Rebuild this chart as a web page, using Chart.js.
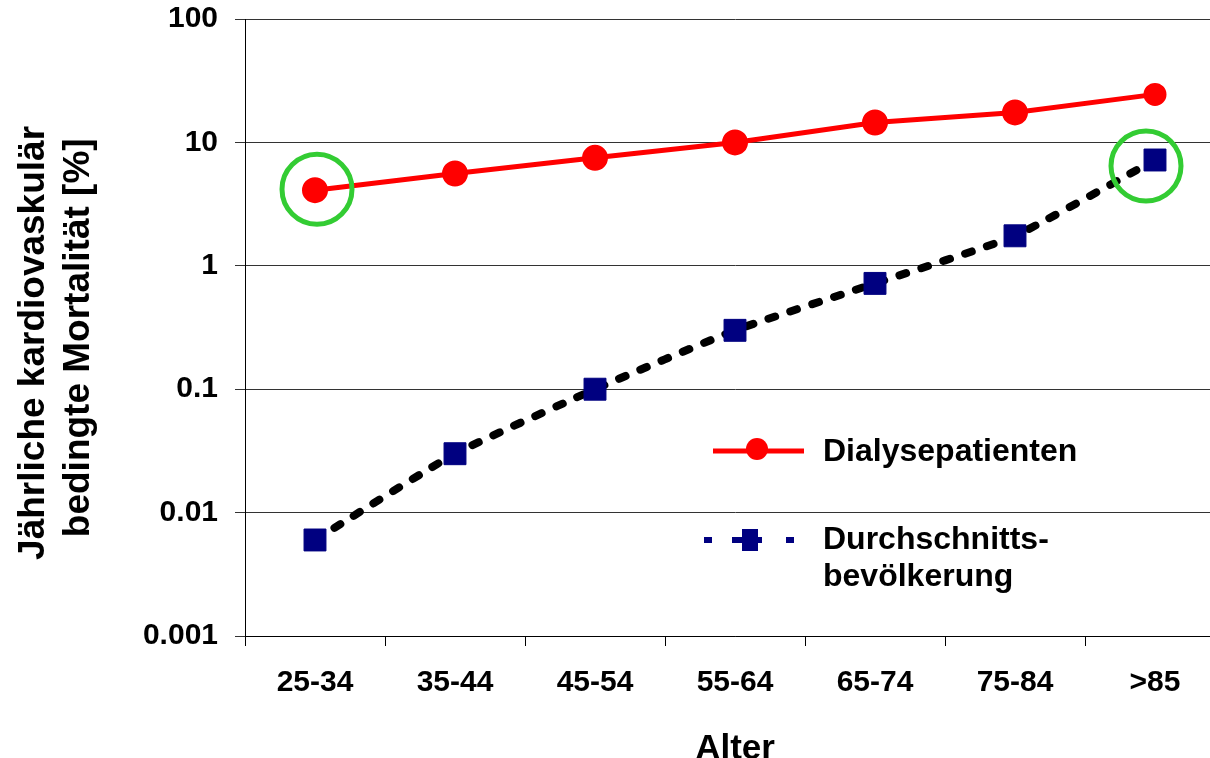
<!DOCTYPE html>
<html>
<head>
<meta charset="utf-8">
<script src="https://cdn.jsdelivr.net/npm/chart.js@4/dist/chart.umd.min.js"></script>
<style>
    html, body { margin: 0; padding: 0; background: #fff; overflow: hidden; }
    canvas { display: block; }
</style>
</head>
<body>
<canvas id="mortalityChart" width="1226" height="770"></canvas>
<script>
const ageGroups = ["25-34", "35-44", "45-54", "55-64", "65-74", "75-84", ">85"];
const dialysis = [4.1, 5.6, 7.5, 10, 14.5, 17.5, 24.5];
const population = [0.006, 0.03, 0.1, 0.3, 0.72, 1.75, 7.2];
const yTicks = [0.001, 0.01, 0.1, 1, 10, 100];

const FONT = "'Liberation Sans', Arial, sans-serif";

// green rings around the first dialysis point and the last population point
const highlightPlugin = {
    id: "highlight",
    afterDatasetsDraw(chart) {
        const ctx = chart.ctx;
        const rings = [
            { ds: 0, idx: 0, dx: 2, dy: -1 },
            { ds: 1, idx: 6, dx: -9, dy: 6 },
        ];
        ctx.save();
        ctx.strokeStyle = "#33cc33";
        ctx.lineWidth = 5;
        rings.forEach((r) => {
            const pt = chart.getDatasetMeta(r.ds).data[r.idx];
            ctx.beginPath();
            ctx.arc(pt.x + r.dx, pt.y + r.dy, 35, 0, Math.PI * 2);
            ctx.stroke();
        });
        ctx.restore();
    },
};

// legend drawn inside the plot area
const legendPlugin = {
    id: "insideLegend",
    afterDraw(chart) {
        const ctx = chart.ctx;
        ctx.save();
        ctx.font = "bold 32px " + FONT;
        ctx.textBaseline = "middle";

        ctx.strokeStyle = "#ff0000";
        ctx.lineWidth = 5;
        ctx.beginPath();
        ctx.moveTo(713, 451);
        ctx.lineTo(804, 451);
        ctx.stroke();
        ctx.fillStyle = "#ff0000";
        ctx.beginPath();
        ctx.arc(757, 449, 11, 0, Math.PI * 2);
        ctx.fill();
        ctx.fillStyle = "#000";
        ctx.fillText("Dialysepatienten", 823, 452);

        ctx.fillStyle = "#000080";
        [[704, 8], [732, 30], [786, 8]].forEach(([x, w]) => {
            ctx.fillRect(x, 537, w, 6);
        });
        ctx.fillRect(742, 529, 16, 22);
        ctx.fillStyle = "#000";
        ctx.fillText("Durchschnitts-", 823, 540);
        ctx.fillText("bevölkerung", 823, 577);
        ctx.restore();
    },
};

const ctx = document.getElementById("mortalityChart").getContext("2d");
new Chart(ctx, {
    type: "line",
    data: {
        labels: ageGroups,
        datasets: [
            {
                label: "Dialysepatienten",
                data: dialysis,
                borderColor: "#ff0000",
                borderWidth: 5,
                pointBackgroundColor: "#ff0000",
                pointBorderColor: "#ff0000",
                pointRadius: [10.5, 10.5, 10.5, 10.5, 10.5, 10.5, 9],
                pointStyle: "circle",
                tension: 0,
            },
            {
                label: "Durchschnittsbevölkerung",
                data: population,
                borderColor: "#000000",
                borderWidth: 8,
                borderDash: [7, 16],
                borderCapStyle: "round",
                borderJoinStyle: "round",
                pointBackgroundColor: "#000080",
                pointBorderColor: "#000080",
                pointBorderWidth: 1,
                pointRadius: 15.5,
                pointStyle: "rect",
                tension: 0.15,
            },
        ],
    },
    options: {
        responsive: false,
        animation: false,
        layout: {
            autoPadding: false,
            padding: { top: 19, right: 1, left: 0, bottom: 0 },
        },
        plugins: {
            legend: { display: false },
            tooltip: { enabled: false },
        },
        scales: {
            x: {
                offset: true,
                grid: {
                    offset: true,
                    drawOnChartArea: false,
                    drawTicks: true,
                    tickLength: 10,
                    color: "#000",
                },
                border: { color: "#000", width: 1 },
                ticks: {
                    color: "#000",
                    font: { family: FONT, size: 30, weight: "bold" },
                    padding: 19,
                    maxRotation: 0,
                },
                title: {
                    display: true,
                    text: "Alter",
                    color: "#000",
                    font: { family: FONT, size: 35, weight: "bold" },
                    padding: { top: 0, bottom: 0 },
                },
                afterFit(scale) {
                    scale.height = 134;
                    scale.paddingLeft = 0;
                    scale.paddingRight = 0;
                },
            },
            y: {
                type: "logarithmic",
                min: 0.001,
                max: 100,
                afterBuildTicks(scale) {
                    scale.ticks = yTicks.map((v) => ({ value: v }));
                },
                grid: {
                    color: "#333",
                    lineWidth: 1,
                    tickLength: 10,
                },
                border: { color: "#000", width: 1 },
                ticks: {
                    color: "#000",
                    font: { family: FONT, size: 30, weight: "bold" },
                    padding: 17,
                    callback: (v) => String(v),
                },
                title: {
                    display: true,
                    // trailing spaces nudge the centred lines down a little
                    text: ["Jährliche kardiovaskulär   ", "bedingte Mortalität [%]  "],
                    color: "#000",
                    font: { family: FONT, size: 37, weight: "bold", lineHeight: 1.2 },
                    padding: { top: 12, bottom: 0 },
                },
                afterFit(scale) {
                    scale.width = 245;
                    scale.paddingTop = 0;
                    scale.paddingBottom = 0;
                },
            },
        },
    },
    plugins: [highlightPlugin, legendPlugin],
});
</script>
</body>
</html>
